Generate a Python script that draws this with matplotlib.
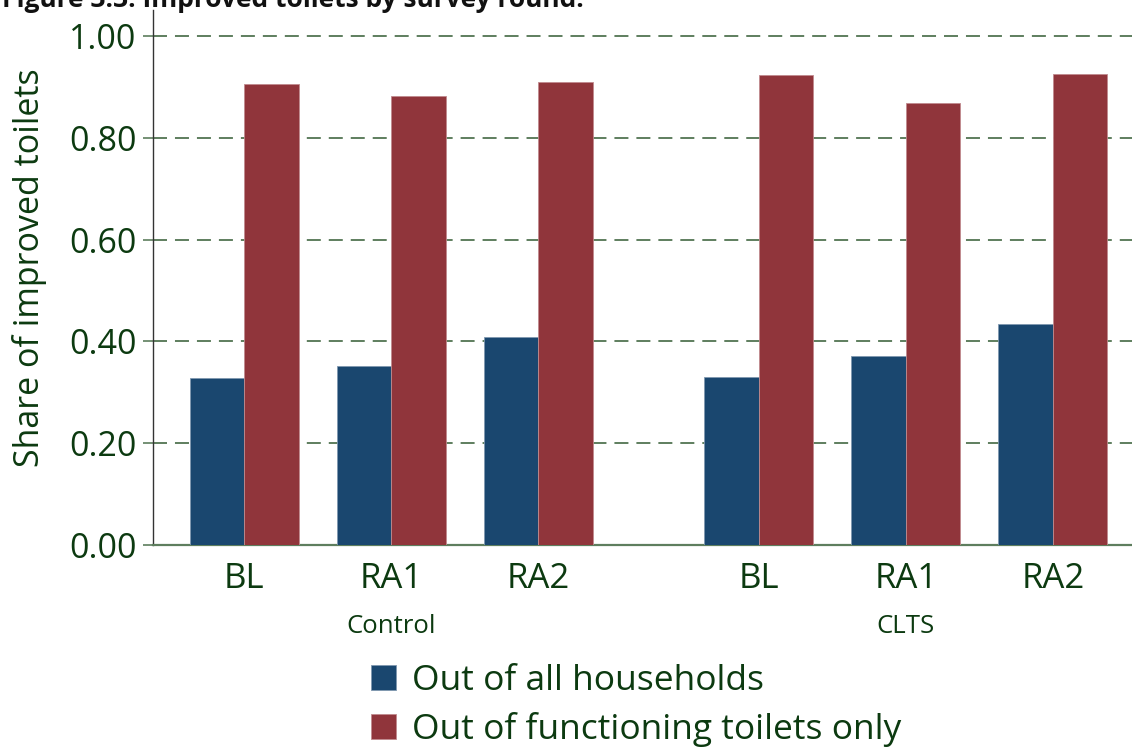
import matplotlib
matplotlib.use("Agg")
import matplotlib.pyplot as plt
from matplotlib.patches import Patch

# ---- data ----
rounds = ["BL", "RA1", "RA2", "BL", "RA1", "RA2"]
groups = ["Control", "CLTS"]
positions = [0, 1, 2, 3.5, 4.5, 5.5]
all_households = [0.329, 0.351, 0.409, 0.331, 0.372, 0.435]
functioning_only = [0.905, 0.882, 0.910, 0.923, 0.869, 0.925]
series_labels = ["Out of all households", "Out of functioning toilets only"]
yticks = [0.0, 0.2, 0.4, 0.6, 0.8, 1.0]
title = "Figure 3.3: Improved toilets by survey round."

# ---- style ----
navy = "#1a476f"
maroon = "#90353b"
text_c = "#0c3a10"
grid_c = "#5e7e5e"
plt.rcParams['font.family'] = ['Open Sans', 'DejaVu Sans']

W, H = 1132, 747
fig = plt.figure(figsize=(W / 100, H / 100), dpi=100)
ax = fig.add_axes([153 / W, (H - 545) / H, 1 - 153 / W, (545 - 10) / H])

bw = 0.371
ax.bar([p - bw / 2 for p in positions], all_households, width=bw, color=navy,
       edgecolor="#7f98b0", linewidth=0.6, zorder=3, label=series_labels[0])
ax.bar([p + bw / 2 for p in positions], functioning_only, width=bw, color=maroon,
       edgecolor="#c08a8e", linewidth=0.6, zorder=3, label=series_labels[1])

ax.set_xlim(-0.621, 6.039)
ax.set_ylim(0, 1.051)
ax.set_yticks(yticks)
ax.set_yticklabels([f"{v:.2f}" for v in yticks])
ax.yaxis.grid(True, color=grid_c, linestyle=(0, (7.2, 4.1)), linewidth=1.4, zorder=1)
ax.set_axisbelow(True)

ax.set_xticks(positions)
ax.set_xticklabels(rounds)
ax.tick_params(axis='x', length=0, pad=12, labelsize=25, labelcolor=text_c)
ax.tick_params(axis='y', length=7, width=1.2, color=grid_c, pad=5,
               labelsize=24.5, labelcolor=text_c)

for s in ["top", "right"]:
    ax.spines[s].set_visible(False)
ax.spines["left"].set_color("#333333")
ax.spines["left"].set_linewidth(1.0)
ax.spines["bottom"].set_color(grid_c)
ax.spines["bottom"].set_linewidth(1.6)

ax.set_ylabel("Share of improved toilets", fontsize=24.5, color=text_c)
ax.yaxis.set_label_coords(-0.108, 0.519)

# group labels
for g, ctr in zip(groups, [1, 4.5]):
    ax.text(ctr, -0.152, g, transform=ax.get_xaxis_transform(), ha="center",
            va="center", fontsize=18.5, color=text_c)

# legend
handles = [Patch(facecolor=navy, edgecolor="#7f98b0", linewidth=0.6),
           Patch(facecolor=maroon, edgecolor="#c08a8e", linewidth=0.6)]
leg = fig.legend(handles, series_labels, loc="upper center",
                 bbox_to_anchor=(636 / W, 1 - 664 / H), frameon=False,
                 fontsize=25.5, handlelength=0.7, handleheight=0.7,
                 handletextpad=0.45, labelspacing=0.4, borderaxespad=0,
                 borderpad=0)
for t in leg.get_texts():
    t.set_color(text_c)

# title (partially clipped at top like the reference)
fig.text(2 / W, 1 - 7 / H, title, ha="left", va="baseline", fontsize=19,
         fontweight="bold", color="#111111")

fig.savefig("out.png", dpi=100)
